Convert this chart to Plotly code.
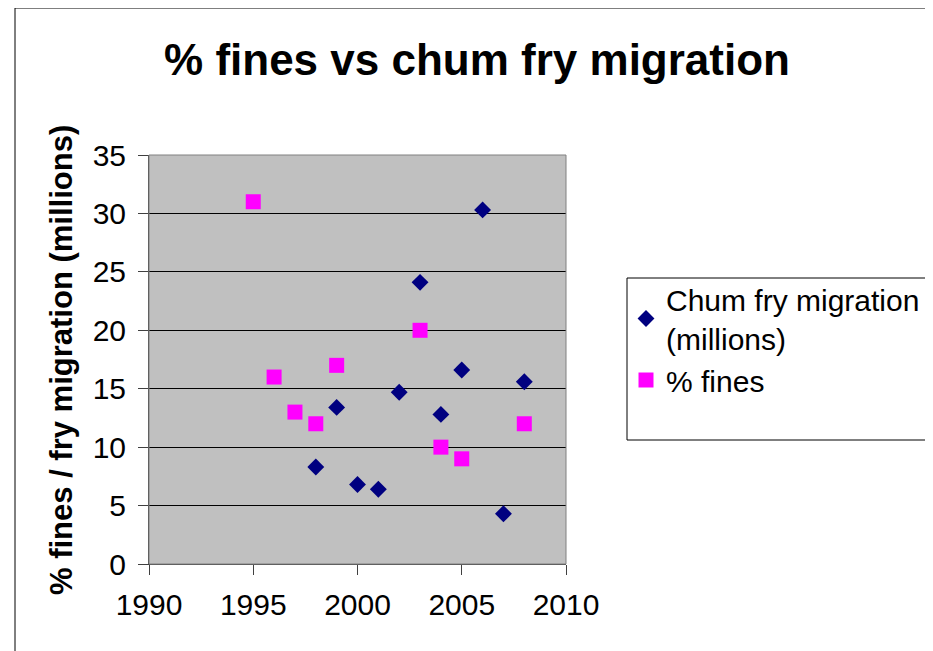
import plotly.graph_objects as go

chum_years = [1998, 1999, 2000, 2001, 2002, 2003, 2004, 2005, 2006, 2007, 2008]
chum_values = [8.3, 13.4, 6.8, 6.4, 14.7, 24.1, 12.8, 16.6, 30.3, 4.3, 15.6]
fines_years = [1995, 1996, 1997, 1998, 1999, 2003, 2004, 2005, 2008]
fines_values = [31, 16, 13, 12, 17, 20, 10, 9, 12]
x_ticks = [1990, 1995, 2000, 2005, 2010]
y_ticks = [0, 5, 10, 15, 20, 25, 30, 35]

FONT = "Liberation Sans, Arial, sans-serif"

fig = go.Figure()
fig.add_trace(go.Scatter(
    x=chum_years, y=chum_values, mode="markers",
    name="Chum fry migration<br>(millions)",
    marker=dict(symbol="diamond", size=13, color="#000080", line=dict(width=0)),
))
fig.add_trace(go.Scatter(
    x=fines_years, y=fines_values, mode="markers",
    name="% fines",
    marker=dict(symbol="square", size=15, color="#FF00FF", line=dict(width=0)),
))

# page has an 8px body margin; work in reference coords and subtract 8
OFF = 8
W, H = 933 - OFF, 651 - OFF
L, R, T, B = 149 - OFF, 566 - OFF, 155 - OFF, 564 - OFF
pw, ph = R - L, B - T

def px(xp):
    return (xp - OFF - L) / pw

def py(yp):
    return (B - (yp - OFF)) / ph

fig.update_layout(
    width=W, height=H,
    margin=dict(l=L, r=W - R, t=T, b=H - B, autoexpand=False),
    paper_bgcolor="white",
    plot_bgcolor="#C0C0C0",
    font=dict(family=FONT, size=30, color="black"),
    title=dict(text="<b>% fines vs chum fry migration</b>", x=(477 - OFF) / W, xanchor="center",
               y=1 - (60 - OFF) / H, yanchor="middle", font=dict(size=44, family=FONT, color="black")),
    showlegend=True,
    legend=dict(x=px(626), y=py(273), xanchor="left", yanchor="top",
                bgcolor="rgba(0,0,0,0)", borderwidth=0,
                font=dict(size=30, family=FONT, color="black"),
                tracegroupgap=2, itemwidth=30),
    xaxis=dict(range=[1990, 2010], tickvals=x_ticks, showgrid=False, zeroline=False,
               showline=True, linecolor="#404040", linewidth=1, mirror=False,
               ticks="outside", ticklen=10, tickcolor="#404040",
               tickfont=dict(size=30, family=FONT), ticklabelstandoff=4),
    yaxis=dict(range=[0, 35], tickvals=y_ticks, showgrid=True, gridcolor="black", gridwidth=1,
               zeroline=False, showline=True, linecolor="#404040", linewidth=1,
               ticks="outside", ticklen=10, tickcolor="#404040",
               tickfont=dict(size=30, family=FONT), ticklabelstandoff=6),
    annotations=[
        dict(text="<b>% fines / fry migration (millions)</b>", xref="paper", yref="paper",
             x=px(61), y=py(360), xanchor="center", yanchor="middle", textangle=-90,
             showarrow=False, font=dict(size=31, family=FONT, color="black")),
    ],
    shapes=[
        dict(type="rect", xref="paper", yref="paper", x0=0, x1=1, y0=0, y1=1,
             line=dict(color="#808080", width=1), fillcolor="rgba(0,0,0,0)", layer="above"),
        dict(type="rect", xref="paper", yref="paper", x0=px(627), x1=px(950), y0=py(440), y1=py(278),
             line=dict(color="black", width=1), fillcolor="rgba(0,0,0,0)"),
        dict(type="rect", xref="paper", yref="paper", x0=px(15), x1=px(931), y0=py(670), y1=py(8),
             line=dict(color="black", width=1), fillcolor="rgba(0,0,0,0)"),
    ],
)

fig.write_html("out.html")
